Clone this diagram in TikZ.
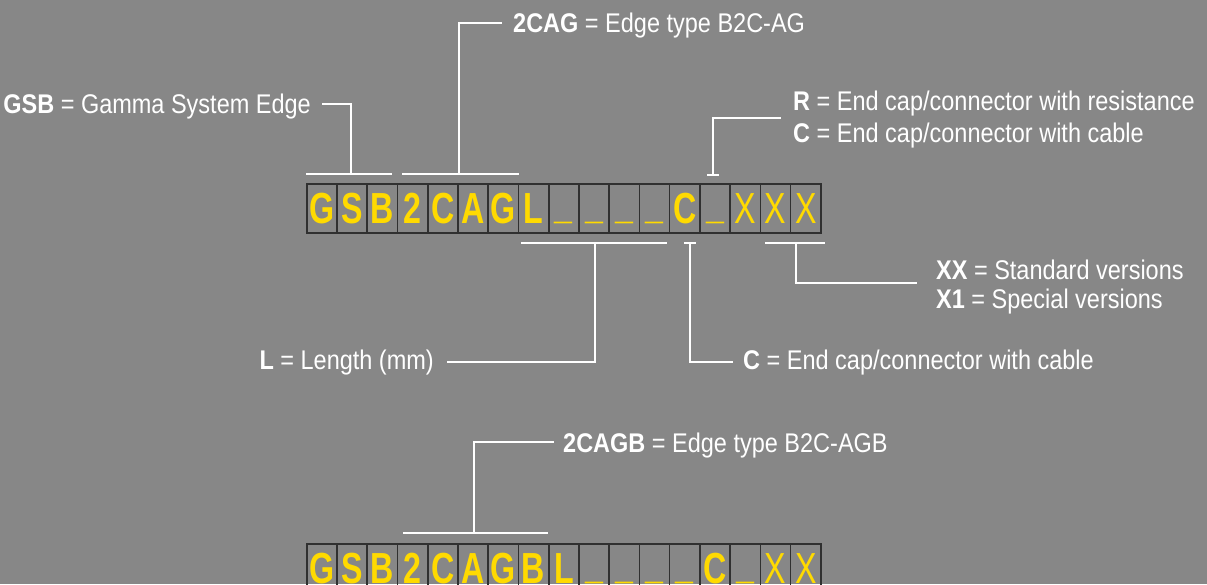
\documentclass[tikz,border=0pt]{standalone}
\usepackage{fontspec}
\setmainfont{Liberation Sans}[FakeStretch=0.87]
\newfontfamily\cellfont{Liberation Sans}[FakeStretch=0.74]
\definecolor{bg}{HTML}{878787}
\definecolor{ylw}{HTML}{FFDA00}
\definecolor{cellline}{HTML}{303030}
\newcommand\usc{\raisebox{5pt}{\_}}
\newcommand\regX{{\mdseries X}}
\begin{document}
\begin{tikzpicture}[x=1pt,y=-1pt,
  lbl/.style={text=white,inner sep=0pt,font=\fontsize{27}{30}\selectfont},
  brk/.style={draw=white,line width=2.4pt},
  cellbox/.style={draw=cellline,line width=1.6pt,minimum width=30.24pt,minimum height=49pt,
    text height=31pt,text depth=0pt,inner sep=0pt,anchor=north west,text=ylw,
    font=\cellfont\fontsize{43.5}{45}\selectfont\bfseries},
]
\useasboundingbox (0,0) rectangle (1207,584);
\fill[bg] (0,0) rectangle (1207,584);
\clip (0,0) rectangle (1207,584);

% upper code row
\foreach \t [count=\i from 0] in {G,S,B,2,C,A,G,L,\usc,\usc,\usc,\usc,C,\usc,\regX,\regX,\regX}
  \node[cellbox] (t\i) at ({306+30.24*\i},183) {\t};

% lower code row
\foreach \t [count=\i from 0] in {G,S,B,2,C,A,G,B,L,\usc,\usc,\usc,\usc,C,\usc,\regX,\regX}
  \node[cellbox] (b\i) at ({306+30.24*\i},543) {\t};

% labels
\node[lbl,anchor=base east] (gsb) at (311,113) {\textbf{GSB} = Gamma System Edge};
\node[lbl,anchor=base west] (cag) at (513,32) {\textbf{2CAG} = Edge type B2C-AG};
\node[lbl,anchor=base west] (rr) at (793,110) {\textbf{R} = End cap/connector with resistance};
\node[lbl,anchor=base west] (cc) at (793,142) {\textbf{C} = End cap/connector with cable};
\node[lbl,anchor=base east] (len) at (434,369) {\textbf{L} = Length (mm)};
\node[lbl,anchor=base west] (cc2) at (743,369) {\textbf{C} = End cap/connector with cable};
\node[lbl,anchor=base west] (xx) at (936,279) {\textbf{XX} = Standard versions};
\node[lbl,anchor=base west] (x1) at (936,308) {\textbf{X1} = Special versions};
\node[lbl,anchor=base west] (cagb) at (563,452) {\textbf{2CAGB} = Edge type B2C-AGB};

% brackets
\draw[brk] (306,174) -- (392,174);
\draw[brk] (351,174) -- (351,104) -- (322,104);
\draw[brk] (402,174) -- (519,174);
\draw[brk] (459,174) -- (459,23) -- (502,23);
\draw[brk] (707,175) -- (719,175);
\draw[brk] (713,175) -- (713,118) -- (781,118);
\draw[brk] (521,243) -- (667,243);
\draw[brk] (595,243) -- (595,362) -- (447,362);
\draw[brk] (684,243) -- (696,243);
\draw[brk] (690,243) -- (690,362) -- (733,362);
\draw[brk] (765,243) -- (825,243);
\draw[brk] (796,243) -- (796,283) -- (917,283);
\draw[brk] (403,533) -- (548,533);
\draw[brk] (474,533) -- (474,442) -- (554,442);
\end{tikzpicture}
\end{document}
